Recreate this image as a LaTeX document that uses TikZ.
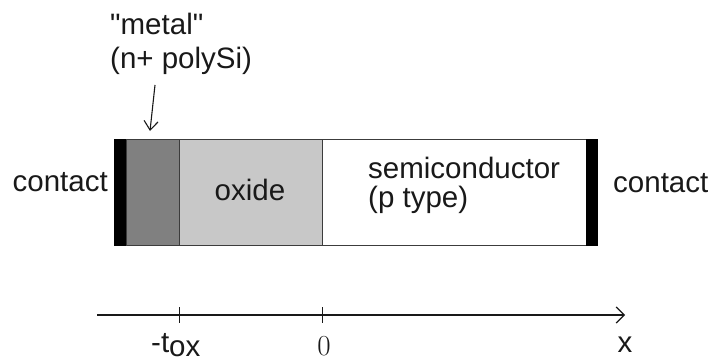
\documentclass[tikz,border=0pt]{standalone}
\usepackage{fontspec}
\setsansfont{Liberation Sans}[Ligatures=TeXOff]
\usetikzlibrary{arrows.meta,calc}

\definecolor{metalgray}{RGB}{128,128,128}
\definecolor{oxidegray}{RGB}{200,200,200}
\definecolor{edgegray}{RGB}{60,60,60}
\definecolor{inkgray}{RGB}{25,25,25}

\tikzset{
  layer/.style={draw=edgegray, line width=0.9pt, inner sep=0pt, outer sep=0pt,
                anchor=north west, minimum height=106pt},
  contactbar/.style={fill=black, draw=none, inner sep=0pt, outer sep=0pt,
                anchor=north west, minimum width=12pt, minimum height=107pt},
  lbl/.style={font=\sffamily\fontsize{29.5}{31}\selectfont, inner sep=0pt, text=inkgray},
  tick/.style={line width=1pt, draw=inkgray},
  axisline/.style={line width=1.3pt, draw=inkgray,
                   -{Straight Barb[length=8pt,width=16pt,line width=1.2pt]}},
  pointer/.style={line width=1.1pt, draw=inkgray,
                   -{Straight Barb[length=9pt,width=14pt,line width=1.1pt]}},
}

\begin{document}
\begin{tikzpicture}[x=1pt, y=-1pt]
  \useasboundingbox (0,0) rectangle (712,361);

  % layer stack
  \node[layer, fill=metalgray, minimum width=53pt]  (metal) at (126,139) {};
  \node[layer, fill=oxidegray, minimum width=143pt] (oxide) at (179,139) {};
  \node[layer, fill=white, minimum width=264pt]     (semi)  at (322,139) {};
  \node[contactbar] (lcontact) at (114,139) {};
  \node[contactbar] (rcontact) at (586,139) {};

  % labels on the stack
  \node[lbl, anchor=base] (oxidetext) at (250,200) {oxide};
  \node[lbl, anchor=base west] (semitext1) at (368,178) {semiconductor};
  \node[lbl, anchor=base west] (semitext2) at (368,207) {(p type)};
  \node[lbl, anchor=base east] (lctext) at (108,191) {contact};
  \node[lbl, anchor=base west] (rctext) at (613,192) {contact};

  % gate material label and pointer
  \node[lbl, anchor=base west] (metaltext1) at (110,35) {"metal"};
  \node[lbl, anchor=base west] (metaltext2) at (110,68) {(n+ polySi)};
  \coordinate (ptrstart) at (155,85);
  \coordinate (ptrend) at (150,131);
  \draw[pointer] (ptrstart) -- (ptrend);

  % position axis
  \coordinate (axstart) at (97,315);
  \coordinate (axend) at (625,315);
  \draw[axisline] (axstart) -- (axend);
  \coordinate (tox) at (179,315);
  \coordinate (zero) at (322,315);
  \draw[tick] ($(tox)+(0,-8)$) -- ($(tox)+(0,8)$);
  \draw[tick] ($(zero)+(0,-8)$) -- ($(zero)+(0,8)$);
  \node[lbl, anchor=base west] (toxtext) at (151,352) {-t\raisebox{-4pt}{ox}};
  \node[lbl, font=\rmfamily\fontsize{29}{30}\selectfont, anchor=base] (zerotext) at (324,355) {0};
  \node[lbl, anchor=base] (xtext) at (625,352) {x};
\end{tikzpicture}
\end{document}
